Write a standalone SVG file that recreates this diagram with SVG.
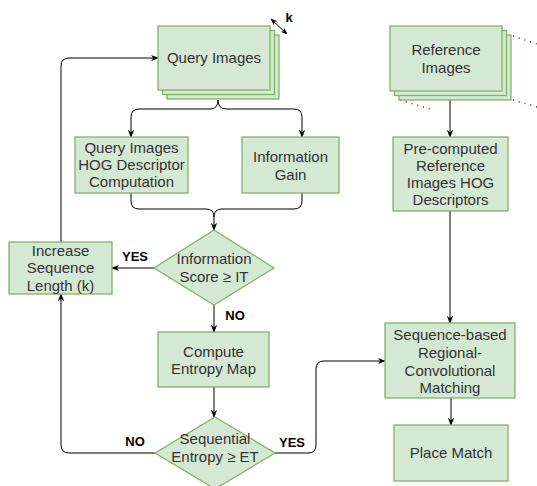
<svg xmlns="http://www.w3.org/2000/svg" width="537" height="486" viewBox="0 0 537 486">
<style>
.box{fill:#d5e8d4;stroke:#82b366;stroke-width:1.3}
.t{font-family:"Liberation Sans",Arial,sans-serif;font-size:15px;fill:#333;text-anchor:middle}
.lbl{font-family:"Liberation Sans",Arial,sans-serif;font-size:13px;font-weight:bold;fill:#000;text-anchor:middle}
.c{fill:none;stroke:#000;stroke-width:1;marker-end:url(#arr)}
.dot{fill:none;stroke:#333;stroke-width:1.5;stroke-dasharray:1 5}
</style>
<defs>
<marker id="arr" viewBox="0 0 10 10" refX="9" refY="5" markerWidth="8" markerHeight="8" markerUnits="userSpaceOnUse" orient="auto">
<path d="M0,1 L10,5 L0,9 L3,5 Z" fill="#000"/>
</marker>
<marker id="arrs" viewBox="0 0 10 10" refX="9" refY="5" markerWidth="7" markerHeight="7" markerUnits="userSpaceOnUse" orient="auto-start-reverse">
<path d="M0,1 L10,5 L0,9 L3,5 Z" fill="#000"/>
</marker>
</defs>
<rect width="537" height="486" fill="#fff"/>
<g id="connectors">
<path class="c" d="M218,100 Q218,109 210,109 H139 Q131,109 131,117 V137"/>
<path class="c" d="M218,100 Q218,109 226,109 H294 Q302,109 302,117 V137"/>
<path class="c" d="M131,193 V201 Q131,209 139,209 H206 Q214,209 214,217 V230"/>
<path fill="none" stroke="#000" d="M302,193 V201 Q302,209 294,209 H222 Q214,209 214,217"/>
<path class="c" d="M154,268 H112"/>
<path class="c" d="M214,305 V332"/>
<path class="c" d="M214,387 V417"/>
<path class="c" d="M155,453 H69 Q61,453 61,445 V294"/>
<path class="c" d="M61,242 V66 Q61,58 69,58 H158"/>
<path class="c" d="M275,453 H308 Q316,453 316,445 V369 Q316,361 324,361 H385"/>
<path class="c" d="M450,99 V137"/>
<path class="c" d="M450,211 V323"/>
<path class="c" d="M451,398 V425"/>
<path fill="none" stroke="#000" stroke-width="1" marker-start="url(#arrs)" marker-end="url(#arrs)" d="M271,19 L287,34"/>
<text class="lbl" x="289" y="22">k</text>
<text class="lbl" x="135" y="261">YES</text>
<text class="lbl" x="235" y="320">NO</text>
<text class="lbl" x="135" y="446">NO</text>
<text class="lbl" x="292" y="447">YES</text>
</g>
<g id="query-images">
<rect class="box" x="167" y="35" width="112" height="64"/>
<rect class="box" x="162.5" y="30.5" width="112" height="64"/>
<rect class="box" x="158" y="26" width="112" height="64"/>
<text class="t" x="214" y="63">Query Images</text>
</g>
<g id="reference-images">
<path class="dot" d="M513,36 L537,44"/>
<path class="dot" d="M513,100 L537,107"/>
<path class="dot" d="M400,100 L433,110"/>
<rect class="box" x="399" y="35" width="112" height="65"/>
<rect class="box" x="394.5" y="30.5" width="112" height="65"/>
<rect class="box" x="390" y="26" width="112" height="65"/>
<text class="t" x="446" y="55">Reference</text>
<text class="t" x="446" y="73">Images</text>
</g>
<g id="hog-query">
<rect class="box" x="75" y="137" width="113" height="56"/>
<text class="t" x="131.5" y="153">Query Images</text>
<text class="t" x="131.5" y="170">HOG Descriptor</text>
<text class="t" x="131.5" y="187">Computation</text>
</g>
<g id="info-gain">
<rect class="box" x="242" y="137" width="97" height="56"/>
<text class="t" x="290.5" y="162">Information</text>
<text class="t" x="290.5" y="180">Gain</text>
</g>
<g id="info-score">
<path class="box" d="M214,230 L274,268 L214,305 L154,268 Z"/>
<text class="t" x="214" y="264">Information</text>
<text class="t" x="214" y="282">Score ≥ IT</text>
</g>
<g id="increase-seq">
<rect class="box" x="9" y="242" width="103" height="52"/>
<text class="t" x="60.5" y="256">Increase</text>
<text class="t" x="60.5" y="273">Sequence</text>
<text class="t" x="60.5" y="291">Length (k)</text>
</g>
<g id="entropy-map">
<rect class="box" x="158" y="332" width="111" height="55"/>
<text class="t" x="213.5" y="357">Compute</text>
<text class="t" x="213.5" y="374">Entropy Map</text>
</g>
<g id="seq-entropy">
<path class="box" d="M215,417 L275,453 L215,489 L155,453 Z"/>
<text class="t" x="215" y="444">Sequential</text>
<text class="t" x="215" y="462">Entropy ≥ ET</text>
</g>
<g id="precomputed">
<rect class="box" x="393" y="137" width="115" height="74"/>
<text class="t" x="450.5" y="154">Pre-computed</text>
<text class="t" x="450.5" y="171">Reference</text>
<text class="t" x="450.5" y="188">Images HOG</text>
<text class="t" x="450.5" y="205">Descriptors</text>
</g>
<g id="seq-matching">
<rect class="box" x="385" y="323" width="130" height="75"/>
<text class="t" x="450" y="340">Sequence-based</text>
<text class="t" x="450" y="358">Regional-</text>
<text class="t" x="450" y="376">Convolutional</text>
<text class="t" x="450" y="393">Matching</text>
</g>
<g id="place-match">
<rect class="box" x="394" y="425" width="114" height="56"/>
<text class="t" x="451" y="458">Place Match</text>
</g>
</svg>
